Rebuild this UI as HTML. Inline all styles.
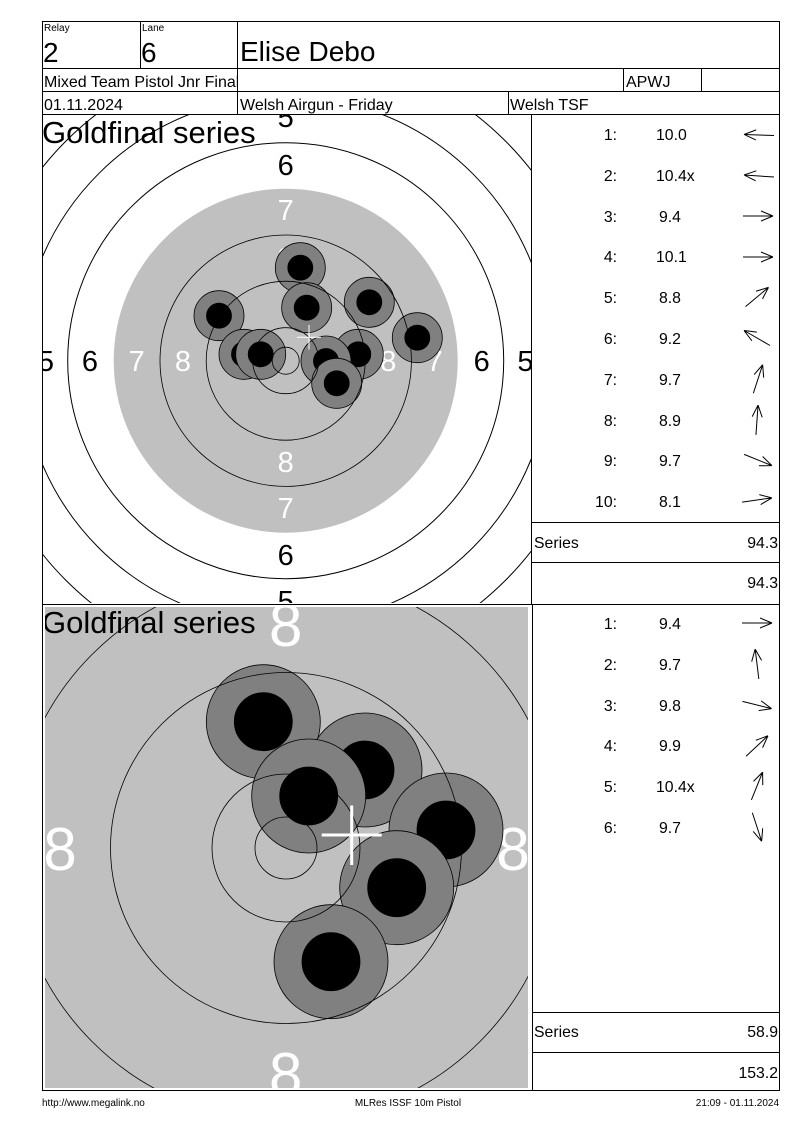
<!DOCTYPE html>
<html><head><meta charset="utf-8"><style>
html,body{margin:0;padding:0;background:#fff;}
svg{display:block;font-family:"Liberation Sans",Arial,sans-serif;}
</style></head><body>
<svg width="800" height="1130" viewBox="0 0 800 1130" xmlns="http://www.w3.org/2000/svg">
<defs>
<clipPath id="c1"><rect x="43" y="115" width="488" height="488"/></clipPath>
<clipPath id="c2"><rect x="45" y="607" width="483" height="481"/></clipPath>
<clipPath id="h1"><rect x="43" y="69" width="194" height="22"/></clipPath>
<g id="ar"><path d="M-15,0 L15,0 M15,0 L3,-5 M15,0 L3,5" stroke="#000" stroke-width="1" fill="none"/></g>
</defs>

<!-- Top target -->
<g clip-path="url(#c1)">
<rect x="43" y="115" width="488" height="488" fill="#fff"/>
<g fill="none" stroke="#000" stroke-width="1">
<circle cx="285.7" cy="360.7" r="310.7"/>
<circle cx="285.7" cy="360.7" r="264.5"/>
<circle cx="285.7" cy="360.7" r="218"/>
</g>
<circle cx="285.7" cy="360.7" r="172" fill="#c0c0c0"/>
<g font-size="29" text-anchor="middle">
<text x="285.7" y="127" fill="#000">5</text>
<text x="285.7" y="175" fill="#000">6</text>
<text x="285.7" y="220" fill="#fff">7</text>
<text x="285.7" y="268" fill="#fff">8</text>
<text x="285.7" y="472" fill="#fff">8</text>
<text x="285.7" y="518" fill="#fff">7</text>
<text x="285.7" y="565" fill="#000">6</text>
<text x="285.7" y="611" fill="#000">5</text>
<text x="46" y="371" fill="#000">5</text>
<text x="90" y="371" fill="#000">6</text>
<text x="136.7" y="371" fill="#fff">7</text>
<text x="183" y="371" fill="#fff">8</text>
<text x="388.3" y="371" fill="#fff">8</text>
<text x="434.7" y="371" fill="#fff">7</text>
<text x="481.7" y="371" fill="#000">6</text>
<text x="525.5" y="371" fill="#000">5</text>
</g>
<g stroke="#000" stroke-width="0.8">
<g><circle cx="300.3" cy="267.7" r="25" fill="#808080"/><circle cx="300.3" cy="267.7" r="12.5" fill="#000"/></g>
<g><circle cx="306.7" cy="307.7" r="25" fill="#808080"/><circle cx="306.7" cy="307.7" r="12.5" fill="#000"/></g>
<g><circle cx="369.3" cy="302.3" r="25" fill="#808080"/><circle cx="369.3" cy="302.3" r="12.5" fill="#000"/></g>
<g><circle cx="219" cy="315.7" r="25" fill="#808080"/><circle cx="219" cy="315.7" r="12.5" fill="#000"/></g>
<g><circle cx="417.3" cy="337.7" r="25" fill="#808080"/><circle cx="417.3" cy="337.7" r="12.5" fill="#000"/></g>
<g><circle cx="244" cy="354.3" r="25" fill="#808080"/><circle cx="244" cy="354.3" r="12.5" fill="#000"/></g>
<g><circle cx="260.7" cy="354.3" r="25" fill="#808080"/><circle cx="260.7" cy="354.3" r="12.5" fill="#000"/></g>
<g><circle cx="358.3" cy="354.3" r="25" fill="#808080"/><circle cx="358.3" cy="354.3" r="12.5" fill="#000"/></g>
<g><circle cx="326" cy="361" r="25" fill="#808080"/><circle cx="326" cy="361" r="12.5" fill="#000"/></g>
<g><circle cx="336.7" cy="383.3" r="25" fill="#808080"/><circle cx="336.7" cy="383.3" r="12.5" fill="#000"/></g>
</g>
<g fill="none" stroke="#000" stroke-width="0.8">
<circle cx="285.7" cy="360.7" r="125.7"/>
<circle cx="285.7" cy="360.7" r="79.5"/>
<circle cx="285.7" cy="360.7" r="33"/>
<circle cx="285.7" cy="360.7" r="13.5"/>
</g>
<path d="M297,337.3 H321 M309,325 V349.5" stroke="#fff" stroke-width="1"/>
<text x="42" y="143" font-size="31" fill="#000">Goldfinal series</text>
</g>

<!-- Bottom target -->
<g clip-path="url(#c2)">
<rect x="45" y="607" width="483" height="481" fill="#c0c0c0"/>
<g font-size="60" text-anchor="middle" fill="#fff">
<text x="285.7" y="646">8</text>
<text x="285.7" y="1095">8</text>
<text x="60" y="870">8</text>
<text x="513" y="870">8</text>
</g>
<g stroke="#000" stroke-width="0.8">
<g><circle cx="263.3" cy="721.7" r="57" fill="#808080"/><circle cx="263.3" cy="721.7" r="29" fill="#000"/></g>
<g><circle cx="365" cy="770" r="57" fill="#808080"/><circle cx="365" cy="770" r="29" fill="#000"/></g>
<g><circle cx="308.7" cy="796" r="57" fill="#808080"/><circle cx="308.7" cy="796" r="29" fill="#000"/></g>
<g><circle cx="446" cy="830" r="57" fill="#808080"/><circle cx="446" cy="830" r="29" fill="#000"/></g>
<g><circle cx="396.7" cy="887.7" r="57" fill="#808080"/><circle cx="396.7" cy="887.7" r="29" fill="#000"/></g>
<g><circle cx="331" cy="961.7" r="57" fill="#808080"/><circle cx="331" cy="961.7" r="29" fill="#000"/></g>
</g>
<g fill="none" stroke="#000" stroke-width="0.8">
<circle cx="286" cy="848" r="274"/>
<circle cx="286" cy="848" r="175.5"/>
<circle cx="286" cy="848" r="74"/>
<circle cx="286" cy="848" r="31"/>
</g>
<path d="M321.7,835 H381.7 M351.7,805.5 V865" stroke="#fff" stroke-width="3"/>
<text x="42" y="633" font-size="31" fill="#000">Goldfinal series</text>
</g>

<!-- Frame lines -->
<g stroke="#000" stroke-width="1" fill="none" shape-rendering="crispEdges">
<rect x="42.5" y="21.5" width="737" height="1069"/>
<line x1="42" y1="68.5" x2="780" y2="68.5"/>
<line x1="42" y1="91.5" x2="780" y2="91.5"/>
<line x1="42" y1="114.5" x2="780" y2="114.5"/>
<line x1="140.5" y1="21" x2="140.5" y2="68"/>
<line x1="237.5" y1="21" x2="237.5" y2="114"/>
<line x1="623.5" y1="68" x2="623.5" y2="91"/>
<line x1="701.5" y1="68" x2="701.5" y2="91"/>
<line x1="508.5" y1="91" x2="508.5" y2="114"/>
<line x1="531.5" y1="114" x2="531.5" y2="604"/>
<line x1="42" y1="604.5" x2="780" y2="604.5"/>
<line x1="532.5" y1="604" x2="532.5" y2="1091"/>
<line x1="531" y1="522.5" x2="780" y2="522.5"/>
<line x1="531" y1="562.5" x2="780" y2="562.5"/>
<line x1="532" y1="1012.5" x2="780" y2="1012.5"/>
<line x1="532" y1="1052.5" x2="780" y2="1052.5"/>
</g>

<!-- Header text -->
<g fill="#000">
<text x="44" y="31" font-size="10">Relay</text>
<text x="142" y="31" font-size="10">Lane</text>
<text x="43" y="62" font-size="28">2</text>
<text x="141" y="62" font-size="28">6</text>
<text x="240" y="61" font-size="28">Elise Debo</text>
<text x="44" y="87" font-size="16" clip-path="url(#h1)">Mixed Team Pistol Jnr Final</text>
<text x="626" y="87" font-size="16">APWJ</text>
<text x="44" y="110" font-size="16">01.11.2024</text>
<text x="240" y="110" font-size="16">Welsh Airgun - Friday</text>
<text x="510" y="110" font-size="16">Welsh TSF</text>
</g>

<!-- Top table -->
<g font-size="15.8" fill="#000">
<g text-anchor="end">
<text x="617" y="140">1:</text><text x="617" y="181">2:</text><text x="617" y="222">3:</text><text x="617" y="262">4:</text><text x="617" y="303">5:</text><text x="617" y="344">6:</text><text x="617" y="385">7:</text><text x="617" y="426">8:</text><text x="617" y="466">9:</text><text x="617" y="507">10:</text>
</g>
<text x="656" y="140">10.0</text><text x="656" y="181">10.4x</text><text x="659" y="222">9.4</text><text x="656" y="262">10.1</text><text x="659" y="303">8.8</text><text x="659" y="344">9.2</text><text x="659" y="385">9.7</text><text x="659" y="426">8.9</text><text x="659" y="466">9.7</text><text x="659" y="507">8.1</text>
<text x="534" y="548">Series</text>
<text x="778" y="548" text-anchor="end">94.3</text>
<text x="778" y="588" text-anchor="end">94.3</text>
</g>
<g>
<use href="#ar" transform="translate(759,135) rotate(182)"/>
<use href="#ar" transform="translate(759,176) rotate(184)"/>
<use href="#ar" transform="translate(758,216) rotate(0)"/>
<use href="#ar" transform="translate(758,257) rotate(0)"/>
<use href="#ar" transform="translate(757,297) rotate(-40)"/>
<use href="#ar" transform="translate(757,338) rotate(-150)"/>
<use href="#ar" transform="translate(758,379) rotate(-72)"/>
<use href="#ar" transform="translate(757,420) rotate(-86)"/>
<use href="#ar" transform="translate(758,460) rotate(22)"/>
<use href="#ar" transform="translate(757,500) rotate(-8)"/>
</g>

<!-- Bottom table -->
<g font-size="15.8" fill="#000">
<g text-anchor="end">
<text x="617" y="629">1:</text><text x="617" y="670">2:</text><text x="617" y="711">3:</text><text x="617" y="751">4:</text><text x="617" y="792">5:</text><text x="617" y="833">6:</text>
</g>
<text x="659" y="629">9.4</text><text x="659" y="670">9.7</text><text x="659" y="711">9.8</text><text x="659" y="751">9.9</text><text x="656" y="792">10.4x</text><text x="659" y="833">9.7</text>
<text x="534" y="1037">Series</text>
<text x="778" y="1037" text-anchor="end">58.9</text>
<text x="778" y="1078" text-anchor="end">153.2</text>
</g>
<g>
<use href="#ar" transform="translate(757,623) rotate(0)"/>
<use href="#ar" transform="translate(757,664) rotate(-97)"/>
<use href="#ar" transform="translate(757,705) rotate(14)"/>
<use href="#ar" transform="translate(757,746) rotate(-43)"/>
<use href="#ar" transform="translate(757,786) rotate(-68)"/>
<use href="#ar" transform="translate(757,827) rotate(72)"/>
</g>

<!-- Footer -->
<g font-size="10" fill="#000">
<text x="42" y="1106">http://www.megalink.no</text>
<text x="408" y="1106" text-anchor="middle">MLRes ISSF 10m Pistol</text>
<text x="779" y="1106" text-anchor="end">21:09 - 01.11.2024</text>
</g>
</svg>
</body></html>
